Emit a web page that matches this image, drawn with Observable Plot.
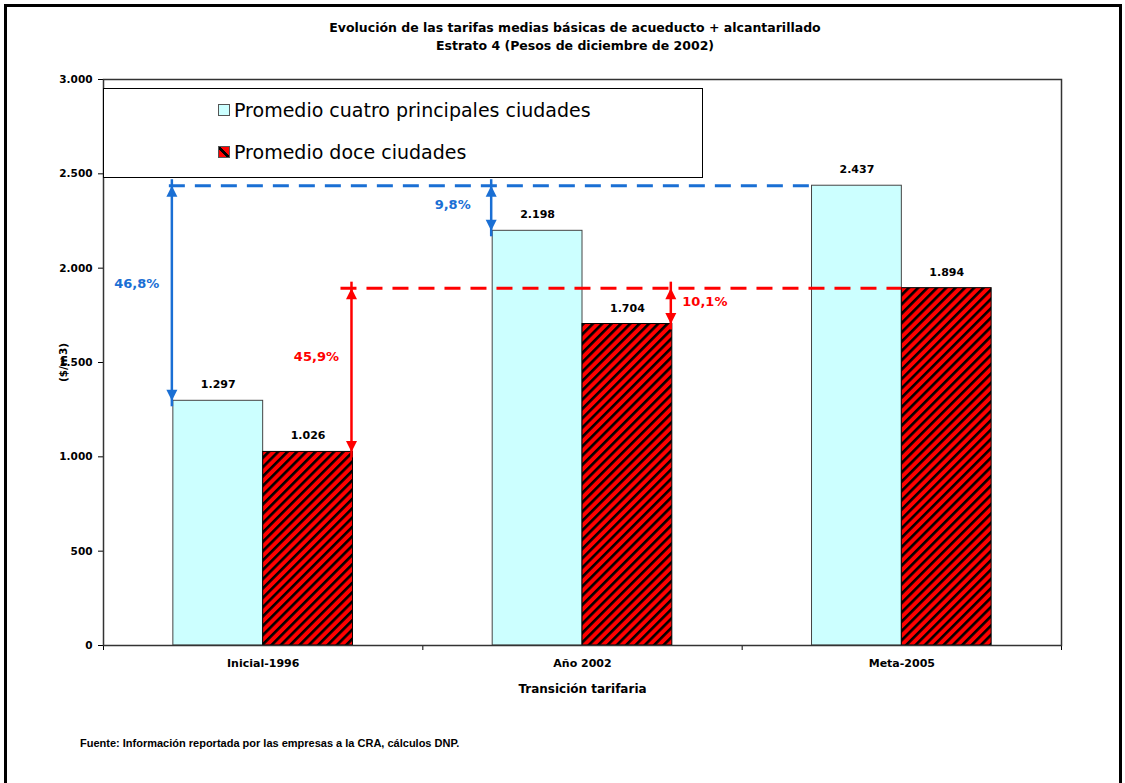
<!DOCTYPE html>
<html>
<head>
<meta charset="utf-8">
<script src="https://cdn.jsdelivr.net/npm/d3@7"></script>
<script src="https://cdn.jsdelivr.net/npm/@observablehq/plot@0.6"></script>
<style>
  body { margin: 0; background: #fff; font-family: "DejaVu Sans", "Liberation Sans", Arial, sans-serif; }
  #page { position: relative; width: 1125px; height: 783px; overflow: hidden; background: #fff; }
  #border { position: absolute; left: 4px; top: 4px; width: 1118px; height: 820px; border: 3px solid #000; box-sizing: border-box; }
  #chart { position: absolute; left: 0; top: 0; }
  .title { position: absolute; left: 275px; width: 600px; text-align: center; font-weight: bold; font-size: 12.5px; color: #000; }
  #legend { position: absolute; left: 103px; top: 88px; width: 600px; height: 90px; border: 1px solid #000; background: #fff; box-sizing: border-box; }
  .item { position: absolute; left: 114px; display: flex; align-items: center; font-size: 19px; color: #000; }
  .swatch { width: 10px; height: 10px; border: 1px solid #555; margin-right: 4px; }
  #caption { position: absolute; left: 80px; top: 737px; font-family: "Liberation Sans", Arial, sans-serif; font-size: 11px; font-weight: bold; color: #000; }
</style>
</head>
<body>
<div id="page">
  <div id="border"></div>
  <div id="chart"></div>
  <div class="title" style="top:20px">Evolución de las tarifas medias básicas de acueducto + alcantarillado</div>
  <div class="title" style="top:38px">Estrato 4 (Pesos de diciembre de 2002)</div>
  <div id="legend"></div>
  <div id="caption">Fuente: Información reportada por las empresas a la CRA, cálculos DNP.</div>
</div>
<script>
// Categories and series
const categories = ["Inicial-1996", "Año 2002", "Meta-2005"];
const seriesNames = ["Promedio cuatro principales ciudades", "Promedio doce ciudades"];
// Average basic tariffs ($/m3, December 2002 pesos)
const cuatro = [1297, 2198, 2437];
const doce = [1026, 1704, 1894];
const yTicks = [0, 500, 1000, 1500, 2000, 2500, 3000];
// Gaps to the 2005 target, as printed
const gapLabels = ["46,8%", "9,8%", "45,9%", "10,1%"];

const blue = "#1a6fd4";
const red = "#ff0000";
const cyanFill = "#ccffff";
const barW = 0.28125; // bar width as a share of one category step
const font = "'DejaVu Sans', 'Liberation Sans', Arial, sans-serif";

const fmt = v => d3.format(",")(v).replace(/,/g, ".");

const rows = categories.flatMap((c, i) => [
  {cat: c, i, s: 0, v: cuatro[i]},
  {cat: c, i, s: 1, v: doce[i]}
]);

// Double-headed gap arrows: from each bar top up to the 2005 target level
const gaps = [
  {label: gapLabels[0], x: 0.5 - barW, from: cuatro[0], to: cuatro[2], color: blue},
  {label: gapLabels[1], x: 1.5 - barW, from: cuatro[1], to: cuatro[2], color: blue},
  {label: gapLabels[2], x: 0.5 + barW, from: doce[0], to: doce[2], color: red},
  {label: gapLabels[3], x: 1.5 + barW, from: doce[1], to: doce[2], color: red}
];
const mid = d => (d.from + d.to) / 2;

const headUp = {draw(ctx) { ctx.moveTo(0, 0); ctx.lineTo(-5.5, 11); ctx.lineTo(5.5, 11); ctx.closePath(); }};
const headDown = {draw(ctx) { ctx.moveTo(0, 0); ctx.lineTo(-5.5, -11); ctx.lineTo(5.5, -11); ctx.closePath(); }};

const gapText = {x: "x", y: mid, text: "label", fill: "color", fontSize: 13, fontWeight: "bold", fontFamily: font};

const chart = Plot.plot({
  width: 1125,
  height: 783,
  marginLeft: 103,
  marginRight: 64,
  marginTop: 79,
  marginBottom: 138,
  x: {type: "linear", domain: [0, categories.length]},
  y: {domain: [0, 3000]},
  style: {background: "transparent", fontFamily: font, fontSize: "11px", fontWeight: "bold", color: "#000"},
  marks: [
    // bars
    Plot.rectY(rows.filter(d => d.s === 0), {
      x1: d => d.i + 0.5 - barW, x2: d => d.i + 0.5, y1: 0, y2: "v",
      fill: cyanFill, stroke: "#444", strokeWidth: 1
    }),
    Plot.rectY(rows.filter(d => d.s === 1), {
      x1: d => d.i + 0.5, x2: d => d.i + 0.5 + barW, y1: 0, y2: "v",
      fill: "url(#hatch)", stroke: "#000", strokeWidth: 1
    }),
    // value labels
    Plot.text(rows, {
      x: d => d.i + 0.5 + (d.s - 0.5) * barW, y: "v", text: d => fmt(d.v),
      dy: -16, fontSize: 11, fontWeight: "bold", fill: "#000"
    }),
    // target reference lines
    Plot.ruleY([cuatro[2]], {x1: 0.5 - barW, x2: 2.5 - barW, insetLeft: -4, stroke: blue, strokeWidth: 3, strokeDasharray: "16,10"}),
    Plot.ruleY([doce[2]], {x1: 0.5 + barW, x2: 2.5, insetLeft: -12, stroke: red, strokeWidth: 3, strokeDasharray: "16,10"}),
    // arrow shafts and heads
    Plot.ruleX(gaps, {x: "x", y1: "from", y2: "to", dx: -1.5, insetTop: 6, insetBottom: 6, stroke: "color", strokeWidth: 2.5}),
    Plot.dot(gaps, {x: "x", y: "to", dx: -1.5, symbol: headUp, fill: "color", stroke: null}),
    Plot.dot(gaps, {x: "x", y: "from", dx: -1.5, symbol: headDown, fill: "color", stroke: null}),
    // gap labels
    Plot.text([gaps[0]], {...gapText, textAnchor: "end", dx: -14, dy: -9}),
    Plot.text([gaps[1]], {...gapText, textAnchor: "end", dx: -22, dy: -3}),
    Plot.text([gaps[2]], {...gapText, textAnchor: "end", dx: -14, dy: -13}),
    Plot.text([gaps[3]], {...gapText, textAnchor: "start", dx: 10, dy: -4}),
    // axes
    Plot.axisY({ticks: yTicks, tickFormat: fmt, tickSize: 5, tickPadding: 6, fontSize: 10.5, label: "($/m3)", labelAnchor: "center", labelOffset: 44, labelArrow: false}),
    Plot.axisX({ticks: d3.range(categories.length + 1), tickFormat: () => "", tickSize: 5, label: null}),
    Plot.axisX({
      ticks: categories.map((_, i) => i + 0.5), tickFormat: v => categories[Math.floor(v)],
      tickSize: 0, tickPadding: 14, label: null
    }),
    Plot.text(["Transición tarifaria"], {
      frameAnchor: "bottom", dy: 47, fontSize: 12, fontWeight: "bold", fill: "#000"
    }),
    Plot.frame({stroke: "#333", strokeWidth: 1.5})
  ]
});

// Diagonal hatch for the twelve-city series
const defs = d3.select(chart).insert("defs", ":first-child");
const pat = defs.append("pattern")
  .attr("id", "hatch").attr("patternUnits", "userSpaceOnUse")
  .attr("width", 6.6).attr("height", 6.6)
  .attr("patternTransform", "rotate(45)");
pat.append("rect").attr("width", 6.6).attr("height", 6.6).attr("fill", red);
pat.append("rect").attr("x", 0).attr("width", 2.6).attr("height", 6.6).attr("fill", "#000");

document.getElementById("chart").appendChild(chart);

// Legend
const legend = d3.select("#legend");
const swatchFills = [cyanFill, "linear-gradient(45deg, #ff0000 0 38%, #000 38% 58%, #ff0000 58% 100%)"];
seriesNames.forEach((name, k) => {
  const item = legend.append("div").attr("class", "item").style("top", (k === 0 ? 10 : 52) + "px");
  item.append("div").attr("class", "swatch").style("background", swatchFills[k]);
  item.append("span").text(name);
});
</script>
</body>
</html>
